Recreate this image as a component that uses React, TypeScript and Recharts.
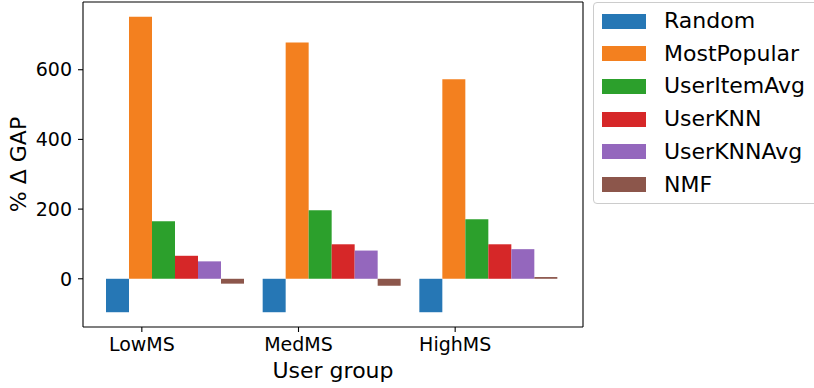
import { BarChart, Bar, XAxis, YAxis } from "recharts";

const GROUPS = ["LowMS", "MedMS", "HighMS"];

const SERIES = ["Random", "MostPopular", "UserItemAvg", "UserKNN", "UserKNNAvg", "NMF"];
const COLORS = ["#2677b5", "#f3801f", "#2ca02c", "#d62728", "#9467bd", "#8c564b"];

const RANDOM = [-96, -96, -96];
const MOST_POPULAR = [752, 678, 573];
const USER_ITEM_AVG = [165, 197, 171];
const USER_KNN = [66, 99, 99];
const USER_KNN_AVG = [50, 81, 85];
const NMF = [-14, -20, 5];

const Y_TICKS = [0, 200, 400, 600];
const Y_DOMAIN = [-138.4, 794.4];

const VALUES = [RANDOM, MOST_POPULAR, USER_ITEM_AVG, USER_KNN, USER_KNN_AVG, NMF];

const data = GROUPS.map((group, i) => {
  const row: Record<string, string | number> = { group };
  SERIES.forEach((s, k) => {
    row[s] = VALUES[k][i];
  });
  return row;
});

const FONT = "DejaVu Sans, sans-serif";
const W = 814;
const H = 388;
const PLOT_LEFT = 83;
const PLOT_RIGHT = 583;
const PLOT_TOP = 2;
const PLOT_BOTTOM = 327;
const PAD = 15;
const CAT_GAP = 8;
const TICK_SIZE = 5;
const TICK_MARGIN = 6;

// matplotlib puts the group tick under the 2nd bar, not under the group middle
const band = (PLOT_RIGHT - PLOT_LEFT - 2 * PAD) / GROUPS.length;
const barW = Math.floor((band - 2 * CAT_GAP) / SERIES.length);
const TICK_SHIFT = -1.5 * barW;

function GroupTick(props: any) {
  const { x, y, payload } = props;
  const tx = x + TICK_SHIFT;
  const top = y - TICK_MARGIN - TICK_SIZE;
  return (
    <g>
      <line x1={tx} x2={tx} y1={top} y2={top + TICK_SIZE} stroke="#000" strokeWidth={1.1} />
      <text x={tx} y={y} dy="0.71em" textAnchor="middle" fontSize={19} fill="#000" fontFamily={FONT}>
        {payload.value}
      </text>
    </g>
  );
}

function YLabel() {
  const cx = 25.5;
  const cy = (PLOT_TOP + PLOT_BOTTOM) / 2;
  return (
    <text
      x={cx}
      y={cy}
      textAnchor="middle"
      fontSize={22}
      fill="#000"
      fontFamily={FONT}
      transform={`rotate(-90, ${cx}, ${cy})`}
    >
      % Δ GAP
    </text>
  );
}

function LegendBox() {
  return (
    <div
      style={{
        position: "absolute",
        left: 593,
        top: 2,
        width: 240,
        height: 202,
        boxSizing: "border-box",
        border: "1px solid #cccccc",
        borderRadius: 4,
        background: "rgba(255,255,255,0.8)",
        fontFamily: FONT,
        fontSize: 22,
        color: "#000",
      }}
    >
      {SERIES.map((s, i) => (
        <div
          key={s}
          style={{
            position: "absolute",
            left: 0,
            top: 20 + i * 32.7 - 16 - 2,
            height: 32,
            display: "flex",
            alignItems: "center",
            whiteSpace: "nowrap",
          }}
        >
          <div style={{ marginLeft: 8, width: 44, height: 15, background: COLORS[i] }} />
          <span style={{ marginLeft: 18, lineHeight: "32px" }}>{s}</span>
        </div>
      ))}
    </div>
  );
}

export default function App() {
  return (
    <div style={{ position: "absolute", left: 0, top: 0, width: W, height: H, overflow: "hidden", background: "#fff" }}>
      <BarChart
        width={W}
        height={H}
        data={data}
        margin={{ top: PLOT_TOP - 1, right: W - PLOT_RIGHT - 1, bottom: 0, left: 0 }}
        barCategoryGap={CAT_GAP}
        barGap={0}
      >
        <XAxis
          dataKey="group"
          height={H - PLOT_BOTTOM}
          padding={{ left: PAD, right: PAD }}
          tickLine={false}
          tickSize={TICK_SIZE}
          tickMargin={TICK_MARGIN}
          tick={<GroupTick />}
          axisLine={{ stroke: "#000", strokeWidth: 1.1 }}
          label={{
            value: "User group",
            position: "insideBottom",
            offset: 10,
            fontSize: 22,
            fill: "#000",
            fontFamily: FONT,
          }}
        />
        <XAxis
          xAxisId="top"
          dataKey="group"
          orientation="top"
          height={1}
          tick={false}
          tickLine={false}
          axisLine={{ stroke: "#000", strokeWidth: 1.1 }}
        />
        <YAxis
          width={PLOT_LEFT}
          type="number"
          domain={Y_DOMAIN}
          ticks={Y_TICKS}
          allowDataOverflow
          tickSize={TICK_SIZE}
          tickMargin={TICK_MARGIN}
          tick={{ fontSize: 19, fill: "#000", fontFamily: FONT }}
          tickLine={{ stroke: "#000", strokeWidth: 1.1 }}
          axisLine={{ stroke: "#000", strokeWidth: 1.1 }}
          label={{ content: <YLabel /> }}
        />
        <YAxis
          yAxisId="right"
          orientation="right"
          width={1}
          tick={false}
          tickLine={false}
          axisLine={{ stroke: "#000", strokeWidth: 1.1 }}
        />
        {SERIES.map((s, i) => (
          <Bar key={s} dataKey={s} fill={COLORS[i]} isAnimationActive={false} />
        ))}
      </BarChart>
      <LegendBox />
    </div>
  );
}
